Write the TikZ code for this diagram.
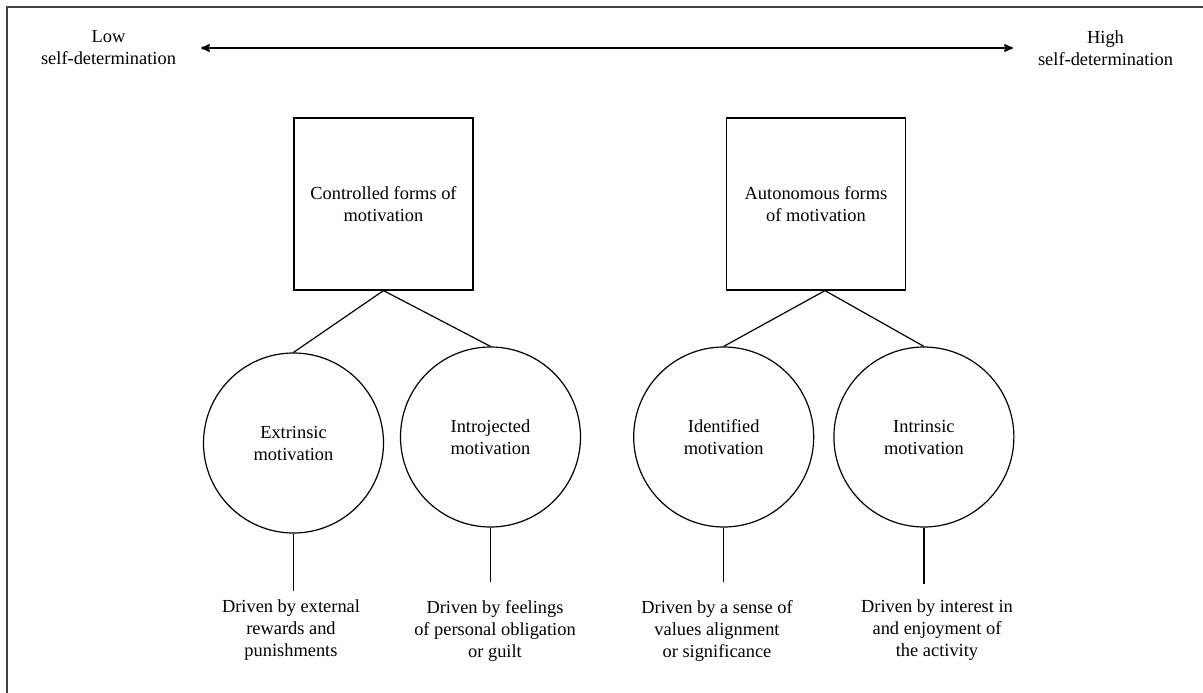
\documentclass[tikz,border=0pt]{standalone}
\usepackage{fontspec}
\setmainfont{Liberation Serif}
\usetikzlibrary{positioning,arrows}

\begin{document}
\begin{tikzpicture}[%
	x=1pt, y=-1pt,
	>=stealth', auto,
	align=center,
	font=\fontsize{18.4}{22}\selectfont,
	label text/.style={inner sep=0pt},
	formbox/.style={draw, line width=1.2pt, minimum width=179pt, minimum height=172pt},
	motive/.style={draw, circle, line width=1.2pt, minimum size=180pt, inner sep=0pt},
	drive/.style={inner sep=0pt, anchor=north},
	link/.style={line width=1.2pt},
	stub/.style={line width=1.2pt}
	]
	\useasboundingbox (0,0) rectangle (1203,693);
	\draw[line width=1.5pt, black!75] (1203,7) -- (7,7) -- (7,693);
	
	\node[label text] (low) at (108.5,48) {Low\\self-determination};
	\node[label text] (high) at (1105.5,48) {High\\self-determination};
	
	\node[formbox] (controlled) at (383.5,204) {Controlled forms of\\motivation};
	\node[formbox] (autonomous) at (816,204) {Autonomous forms\\of motivation};
	
	\node[motive] (extrinsic) at (293.5,443) {Extrinsic\\motivation};
	\node[motive] (introjected) at (490.5,437) {Introjected\\motivation};
	\node[motive] (identified) [right=52pt of introjected] {Identified\\motivation};
	\node[motive] (intrinsic) [right=19pt of identified] {Intrinsic\\motivation};
	
	\node[drive] (external) at (291,600) {Driven by external\\rewards and\\punishments};
	\node[drive] (guilt) at (495,600) {Driven by feelings\\of personal obligation\\or guilt};
	\node[drive] (values) at (717,600) {Driven by a sense of\\values alignment\\or significance};
	\node[drive] (interest) at (937,600) {Driven by interest in\\and enjoyment of\\the activity};
	
	\draw[<->, line width=2pt, shorten <=25pt, shorten >=25pt] (low) -- (high);
	
	\path[link] (controlled.south) edge (extrinsic.north)
	(controlled.south) edge (introjected.north)
	([xshift=9pt]autonomous.south) edge (identified.north)
	([xshift=9pt]autonomous.south) edge (intrinsic.north);
	
	\draw[stub, shorten >=9pt] (extrinsic) -- (extrinsic |- external.north);
	\draw[stub, shorten >=18pt] (introjected) -- (introjected |- guilt.north);
	\draw[stub, shorten >=18pt] (identified) -- (identified |- values.north);
	\draw[stub, shorten >=16pt] (intrinsic) -- (intrinsic |- interest.north);
\end{tikzpicture}
\end{document}
